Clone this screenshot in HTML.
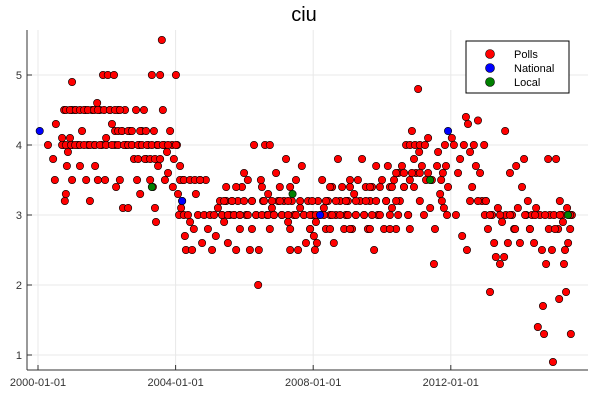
<!DOCTYPE html>
<html><head><meta charset="utf-8"><style>
body{margin:0;background:#fff;}
svg{display:block;font-family:"Liberation Sans","DejaVu Sans",sans-serif;}
</style></head><body>
<svg id="chart" width="600" height="400">
<text x="304" y="21" font-size="20" text-anchor="middle" fill="#000">ciu</text>
<g id="grid"></g>
<g id="axes"></g>
<g id="marks"></g>
<g id="legend"></g>
</svg>
<script>
const pollDates=[2000.29,2000.44,2000.49,2000.52,2000.70,2000.73,2000.76,2000.78,2000.81,2000.84,2000.87,2000.93,2000.99,2000.99,2000.99,2000.99,
2001.08,2001.16,2001.22,2001.28,2001.37,2001.40,2001.45,2001.51,2001.57,2001.63,2001.66,2001.72,2001.74,2001.80,2001.86,2001.89,2001.95,2001.98,
2002.03,2002.09,2002.15,2002.21,2002.24,2002.27,2002.33,2002.38,2002.44,2002.47,2002.53,2002.56,2002.62,2002.67,2002.73,2002.79,2002.85,2002.88,2002.94,2002.97,
2003.02,2003.08,2003.14,2003.20,2003.26,2003.31,2003.34,2003.37,2003.40,2003.43,2003.46,2003.49,2003.55,2003.60,2003.63,2003.66,2003.69,2003.75,2003.78,2003.84,2003.90,2003.92,2003.95,
2004.01,2004.04,2004.07,2004.10,2004.13,2004.16,2004.19,2004.22,2004.24,2004.27,2004.30,2004.36,2004.42,2004.48,2004.53,2004.59,2004.65,2004.71,2004.77,2004.83,2004.88,2004.94,
2005.00,2005.06,2005.12,2005.17,2005.23,2005.29,2005.35,2005.41,2005.47,2005.52,2005.58,2005.64,2005.70,2005.76,2005.81,2005.87,2005.93,
2005.99,2006.05,2006.10,2006.16,2006.22,2006.28,2006.34,2006.40,2006.42,2006.48,2006.54,2006.60,2006.66,2006.69,2006.74,2006.80,2006.86,2006.92,2006.98,
2007.03,2007.09,2007.15,2007.21,2007.27,2007.33,2007.38,2007.44,2007.50,2007.56,2007.62,2007.67,2007.73,2007.79,2007.85,2007.91,2007.97,
2008.02,2008.05,2008.08,2008.11,2008.14,2008.20,2008.26,2008.31,2008.37,2008.43,2008.49,2008.55,2008.60,2008.66,2008.72,2008.78,2008.84,2008.90,2008.95,
2009.01,2009.07,2009.13,2009.19,2009.24,2009.30,2009.36,2009.42,2009.48,2009.53,2009.59,2009.65,2009.71,2009.77,2009.83,2009.88,2009.94,
2010.00,2010.06,2010.12,2010.17,2010.23,2010.29,2010.35,2010.41,2010.47,2010.52,2010.58,2010.64,2010.70,2010.76,2010.81,2010.87,2010.93,2010.99,
2011.05,2011.08,2011.10,2011.16,2011.22,2011.28,2011.34,2011.40,2011.45,2011.51,2011.54,2011.60,2011.63,2011.69,2011.72,2011.74,2011.77,2011.80,2011.83,2011.86,2011.89,2011.92,
2012.03,2012.09,2012.15,2012.21,2012.27,2012.33,2012.38,2012.44,2012.47,2012.50,2012.56,2012.62,2012.67,2012.73,2012.79,2012.85,2012.91,2012.97,2012.99,
2013.02,2013.08,2013.14,2013.20,2013.26,2013.31,2013.37,2013.43,2013.49,2013.55,2013.58,2013.60,2013.66,2013.72,2013.78,2013.84,2013.90,2013.95,2014.01,
2014.07,2014.13,2014.19,2014.24,2014.30,2014.36,2014.42,2014.48,2014.53,2014.59,2014.65,2014.68,2014.71,2014.77,2014.83,2014.85,2014.88,2014.94,2014.97,2015.00,
2015.06,2015.12,2015.15,2015.17,2015.23,2015.26,2015.29,2015.32,2015.35,2015.38,2015.41,2015.47,2015.49,2015.52,
2000.81,2000.93,2001.10,2001.22,2001.34,2001.45,2001.63,2001.74,2001.92,2002.09,2002.24,2002.38,
2000.70,2000.81,2000.96,2001.08,2001.22,2001.34,2001.51,2001.66,2001.80,2001.98,2002.15,2002.33,2002.50,2002.62,2002.73,2002.91,2003.02,2003.17,2003.31,2003.49,2003.63,2003.78,2004.01,
2002.91,2003.11,2003.26,2003.40,2003.55,
2002.24,2002.33,2002.44,2002.62,2002.73,2002.97,2003.14,
2004.13,2004.24,2004.42,2004.56,2004.71,
2005.35,2005.52,2005.70,2005.87,2006.10,2006.34,2006.51,2006.69,2006.86,2007.09,2007.27,2007.50,2007.73,2007.91,2008.08,2008.31,2008.55,2008.78,2009.01,2009.24,2009.48,2009.71,2009.94,2010.23,2010.47,2010.76,
2005.41,2005.64,2005.99,2006.22,2006.57,2006.80,2007.03,2007.27,2007.62,2007.97,2008.37,2008.66,2008.95,2009.24,2009.53,2009.83,2010.12,2010.41,
2005.47,2005.76,2006.51,2007.33,2008.49,2009.07,2009.65,2010.29,2010.64,2010.93,
2005.87,2006.22,2006.74,2007.33,2007.91,2008.49,2009.07,2009.65,2010.23,2010.81,
2010.41,2010.64,2010.87,2011.10,2011.34,
2010.81,2010.96,2011.10,2011.25,
2013.14,2013.43,2013.72,2014.16,2014.45,2014.74,2015.17,2015.47,
2013.87,2014.30,2015.03,
2012.56,2012.79,2013.02];
const pollValues=[4.0,3.8,3.5,4.3,4.1,4.0,4.5,3.2,3.3,3.7,3.9,4.1,4.9,4.5,4.0,3.5,
4.5,4.0,3.7,4.2,4.5,3.5,4.0,3.2,4.5,4.0,3.7,4.6,3.5,4.5,4.0,5.0,3.5,4.1,
5.0,4.5,4.3,5.0,4.0,3.4,4.5,3.5,4.2,3.1,4.5,4.0,3.1,4.2,4.0,3.8,4.5,3.5,4.0,3.3,
4.2,4.5,3.8,4.0,3.5,5.0,3.4,4.2,3.1,2.9,4.0,3.7,5.0,5.5,4.5,4.0,3.5,3.9,3.6,4.2,4.0,3.4,3.8,
5.0,4.0,3.3,3.0,3.7,3.1,3.2,3.5,3.0,2.7,2.5,3.0,2.9,2.5,2.8,3.3,3.0,3.5,2.6,3.0,3.5,2.8,
3.0,2.5,3.0,2.7,3.1,3.2,3.0,2.9,3.2,2.6,3.0,3.2,3.0,2.5,3.2,3.0,3.4,
3.6,3.0,3.5,2.5,3.2,4.0,3.0,2.0,2.5,3.5,3.2,4.0,3.0,3.3,4.0,3.1,3.0,3.6,3.2,
3.4,3.0,3.2,3.8,2.9,2.5,3.2,3.0,3.5,2.5,3.1,3.7,3.0,2.6,3.2,2.8,3.0,
2.7,2.5,2.9,2.6,3.2,3.0,3.5,3.1,2.8,3.2,3.0,3.4,2.6,3.0,3.8,3.2,3.4,2.8,3.0,
3.2,3.5,2.8,3.3,3.0,3.5,3.2,3.8,3.0,3.4,2.8,3.2,3.4,2.5,3.7,3.0,3.4,
3.5,2.8,3.2,3.7,3.4,3.1,3.5,2.8,3.6,3.2,3.7,3.4,4.0,3.0,3.5,4.2,3.8,3.6,
4.8,3.9,3.2,3.7,3.0,3.5,4.1,3.1,3.5,2.3,2.8,3.7,3.9,3.3,3.5,3.2,3.6,3.1,4.0,3.7,3.0,3.4,
4.1,4.0,3.0,3.6,3.8,2.7,4.0,4.4,2.5,4.3,3.9,3.4,4.0,3.7,4.35,3.6,3.2,4.0,3.0,
3.2,2.8,1.9,3.0,2.6,2.4,3.1,2.3,2.9,2.4,4.2,3.0,2.6,3.6,3.0,2.8,3.7,3.1,2.6,
3.4,3.8,3.0,3.2,2.8,3.0,2.6,3.1,1.4,3.0,2.5,1.7,1.3,2.3,3.8,2.8,3.0,2.5,0.9,3.0,
3.8,2.8,1.8,3.2,3.0,2.9,2.3,2.5,1.9,3.1,2.6,2.8,1.3,3.0,
4.5,4.5,4.5,4.5,4.5,4.5,4.5,4.5,4.5,4.5,4.5,4.5,
4.0,4.0,4.0,4.0,4.0,4.0,4.0,4.0,4.0,4.0,4.0,4.0,4.0,4.0,4.0,4.0,4.0,4.0,4.0,4.0,4.0,4.0,4.0,
3.8,3.8,3.8,3.8,3.8,
4.2,4.2,4.2,4.2,4.2,4.2,4.2,
3.5,3.5,3.5,3.5,3.5,
3.0,3.0,3.0,3.0,3.0,3.0,3.0,3.0,3.0,3.0,3.0,3.0,3.0,3.0,3.0,3.0,3.0,3.0,3.0,3.0,3.0,3.0,3.0,3.0,3.0,3.0,
3.2,3.2,3.2,3.2,3.2,3.2,3.2,3.2,3.2,3.2,3.2,3.2,3.2,3.2,3.2,3.2,3.2,3.2,
3.4,3.4,3.4,3.4,3.4,3.4,3.4,3.4,3.4,3.4,
2.8,2.8,2.8,2.8,2.8,2.8,2.8,2.8,2.8,2.8,
3.6,3.6,3.6,3.6,3.6,
4.0,4.0,4.0,4.0,
3.0,3.0,3.0,3.0,3.0,3.0,3.0,3.0,
2.8,2.8,2.8,
3.2,3.2,3.2];
const nationalDates=[2000.05,2004.19,2008.20,2011.92];
const nationalValues=[4.2,3.2,3.0,4.2];
const localDates=[2003.31,2007.40,2011.40,2015.41];
const localValues=[3.4,3.3,3.5,3.0];
const yTicks=[1,2,3,4,5];
const xTicks=[2000,2004,2008,2012];
const xTickLabels=["2000-01-01","2004-01-01","2008-01-01","2012-01-01"];

const NS="http://www.w3.org/2000/svg";
const L=27,R=588,T=30,B=370;
function xs(d){return 38+(d-2000)*34.4;}
function ys(v){return 355-(v-1)*70;}
function mk(tag,attrs,parent){const e=document.createElementNS(NS,tag);for(const k in attrs)e.setAttribute(k,attrs[k]);parent.appendChild(e);return e;}
const grid=document.getElementById('grid'),axes=document.getElementById('axes'),marks=document.getElementById('marks'),legend=document.getElementById('legend');
yTicks.forEach(t=>{
  const g=mk('line',{x1:L,x2:R,y1:ys(t),y2:ys(t),stroke:'#e8e8e8','stroke-width':1},grid);
  
  
  const tk=mk('line',{x1:L,x2:L+5,y1:ys(t),y2:ys(t),stroke:'#333'},axes);
  
  
  const tx=mk('text',{x:L-5,y:ys(t)+4,'font-size':11,'text-anchor':'end',fill:'#333'},axes);
  tx.textContent=t;
  
  
});
xTicks.forEach((t,i)=>{
  const g=mk('line',{x1:xs(t),x2:xs(t),y1:T,y2:B,stroke:'#e8e8e8','stroke-width':1},grid);
  
  
  const tk=mk('line',{x1:xs(t),x2:xs(t),y1:B,y2:B-5,stroke:'#333'},axes);
  
  
  const tx=mk('text',{x:xs(t),y:B+16,'font-size':11,'text-anchor':'middle',fill:'#333'},axes);
  tx.textContent=xTickLabels[i];
  
  
});
const ya=mk('line',{x1:L,x2:L,y1:T,y2:B,stroke:'#333'},axes);


const xa=mk('line',{x1:L,x2:R,y1:B,y2:B,stroke:'#333'},axes);


function series(ds,vs,color,name){
  ds.forEach((d,i)=>{
    const c=mk('circle',{cx:xs(d),cy:ys(vs[i]),r:3.7,fill:color,stroke:'#000','stroke-width':0.6},marks);
    
    
  });
}
series(pollDates,pollValues,'#ff0000','poll-point');
series(nationalDates,nationalValues,'#0000ff','national-point');
series(localDates,localValues,'#008000','local-point');
const box=mk('rect',{x:466,y:41,width:103,height:52,fill:'#fff',stroke:'#000','stroke-width':1},legend);


[['Polls','#ff0000'],['National','#0000ff'],['Local','#008000']].forEach((e,i)=>{
  const y=54+i*14;
  const c=mk('circle',{cx:490,cy:y,r:4.5,fill:e[1],stroke:'#000','stroke-width':0.6},legend);
  
  
  const t=mk('text',{x:514,y:y+4,'font-size':11,fill:'#000'},legend);
  t.textContent=e[0];
  
  
});
</script>
</body></html>
